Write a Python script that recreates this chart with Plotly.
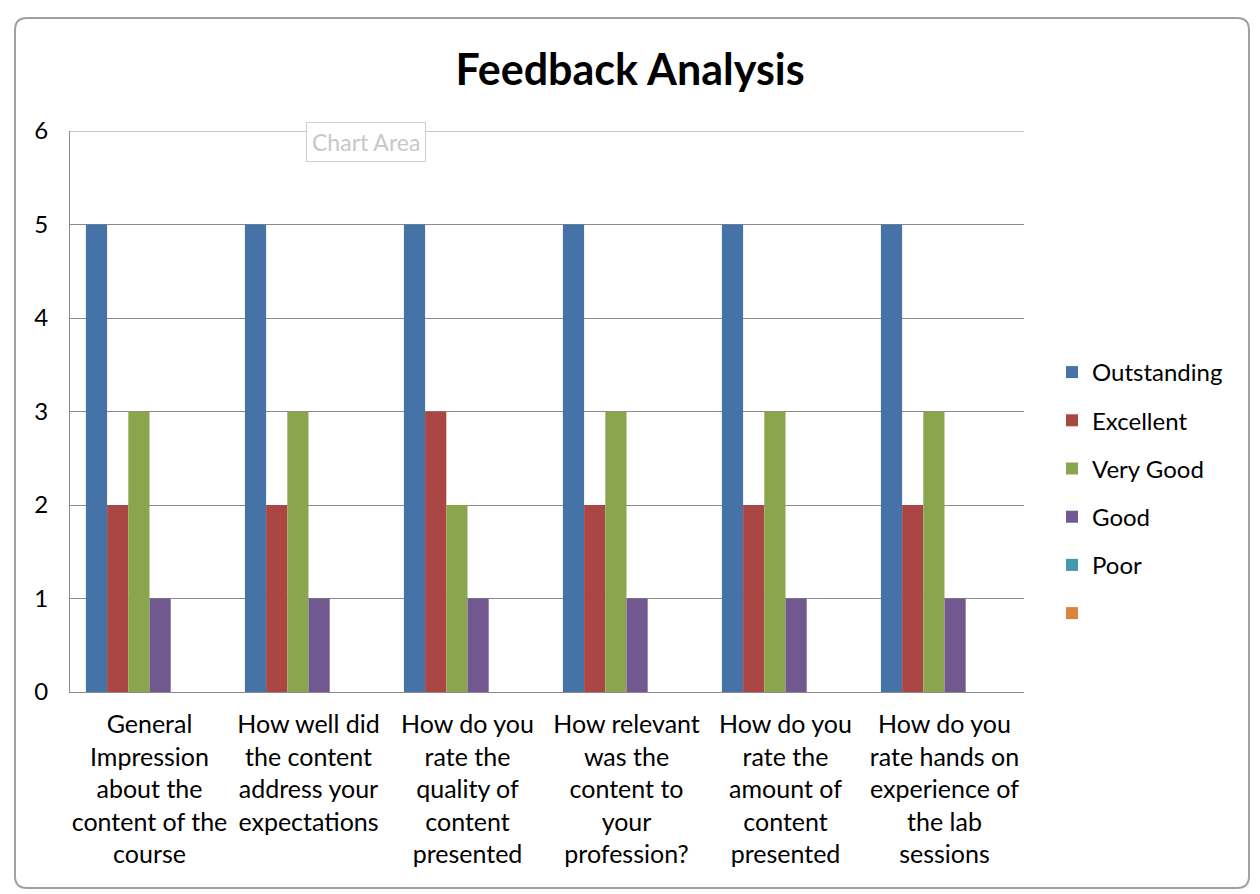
import plotly.graph_objects as go

categories = [
    "General<br>Impression<br>about the<br>content of the<br>course",
    "How well did<br>the content<br>address your<br>expectations",
    "How do you<br>rate the<br>quality of<br>content<br>presented",
    "How relevant<br>was the<br>content to<br>your<br>profession?",
    "How do you<br>rate the<br>amount of<br>content<br>presented",
    "How do you<br>rate hands on<br>experience of<br>the lab<br>sessions",
]
series_names = ["Outstanding", "Excellent", "Very Good", "Good", "Poor", " "]
outstanding = [5, 5, 5, 5, 5, 5]
excellent = [2, 2, 3, 2, 2, 2]
very_good = [3, 3, 2, 3, 3, 3]
good = [1, 1, 1, 1, 1, 1]
poor = [0, 0, 0, 0, 0, 0]
blank = [None, None, None, None, None, None]
colors = ["#4572A7", "#AA4643", "#89A54E", "#71588F", "#4198AF", "#DB843D"]
y_max = 6

FONT = "Lato, Open Sans, sans-serif"
W, H = 1260, 894
L, R, T, B = 70, 236, 131, 202

fig = go.Figure()
for i, (name, vals) in enumerate(zip(series_names, [outstanding, excellent, very_good, good, poor, blank])):
    fig.add_trace(go.Bar(x=categories, y=vals, name=name, marker_color=colors[i],
                         marker_line_width=0, legendgroup=str(i)))

pw = W - L - R
ph = H - T - B
fig.update_layout(
    width=W, height=H,
    margin=dict(l=L, r=R, t=T, b=B),
    paper_bgcolor="white", plot_bgcolor="white",
    barmode="group", bargap=0.2, bargroupgap=0,
    font=dict(family=FONT, size=24, color="black"),
    title=dict(text="<b>Feedback Analysis</b>", x=630 / W, xref="container", xanchor="center",
               y=1 - 70 / H, yref="container", yanchor="middle",
               font=dict(family=FONT, size=43, color="black")),
    legend=dict(x=(1052 - L) / pw, xanchor="left", y=1 - (493 - T) / ph, yanchor="middle",
                font=dict(family=FONT, size=24, color="black"), tracegroupgap=14,
                bgcolor="rgba(0,0,0,0)", itemwidth=30),
    showlegend=True,
)
fig.update_yaxes(range=[0, y_max], dtick=1, showgrid=True,
                 gridcolor="#8a8a8a", gridwidth=1,
                 showline=True, linecolor="#8a8a8a", linewidth=1, ticks="", zeroline=False,
                 ticklabelstandoff=16, tickfont=dict(family=FONT, size=24, color="black"),
                 fixedrange=True)
fig.update_xaxes(showline=True, linecolor="#8a8a8a", linewidth=1, ticks="",
                 ticklabelstandoff=10, tickangle=0,
                 tickfont=dict(family=FONT, size=25, color="black"))

# top gridline (at y = 6)
fig.add_shape(type="line", xref="paper", yref="y", x0=0, x1=1, y0=y_max, y1=y_max,
              line=dict(color="#8a8a8a", width=1), layer="below")

# chart area border (Excel style, rounded corners)
x0, x1, y0, y1, r = 15, 1249, 18, 888, 12
path = (f"M {x0 + r},{y0} L {x1 - r},{y0} Q {x1},{y0} {x1},{y0 + r} "
        f"L {x1},{y1 - r} Q {x1},{y1} {x1 - r},{y1} L {x0 + r},{y1} "
        f"Q {x0},{y1} {x0},{y1 - r} L {x0},{y0 + r} Q {x0},{y0} {x0 + r},{y0} Z")


def px2paper(p):
    parts = p.split(" ")
    out = []
    for tok in parts:
        if "," in tok:
            a, b = tok.split(",")
            out.append(f"{(float(a) - L) / pw:.5f},{1 - (float(b) - T) / ph:.5f}")
        else:
            out.append(tok)
    return " ".join(out)


fig.add_shape(type="path", xref="paper", yref="paper", path=px2paper(path),
              line=dict(color="#a0a0a0", width=2), fillcolor="rgba(0,0,0,0)", layer="below")

fig.add_annotation(text="Chart Area", xref="paper", yref="paper",
                   x=(366 - L) / pw, y=1 - (142 - T) / ph, xanchor="center", yanchor="middle",
                   showarrow=False,
                   font=dict(family=FONT, size=23, color="#c8c8c8"),
                   bordercolor="#cfcfcf", borderwidth=1, borderpad=5, bgcolor="white")

fig.write_html("out.html", config={"displayModeBar": False},
               post_script="document.body.style.margin='0';")
